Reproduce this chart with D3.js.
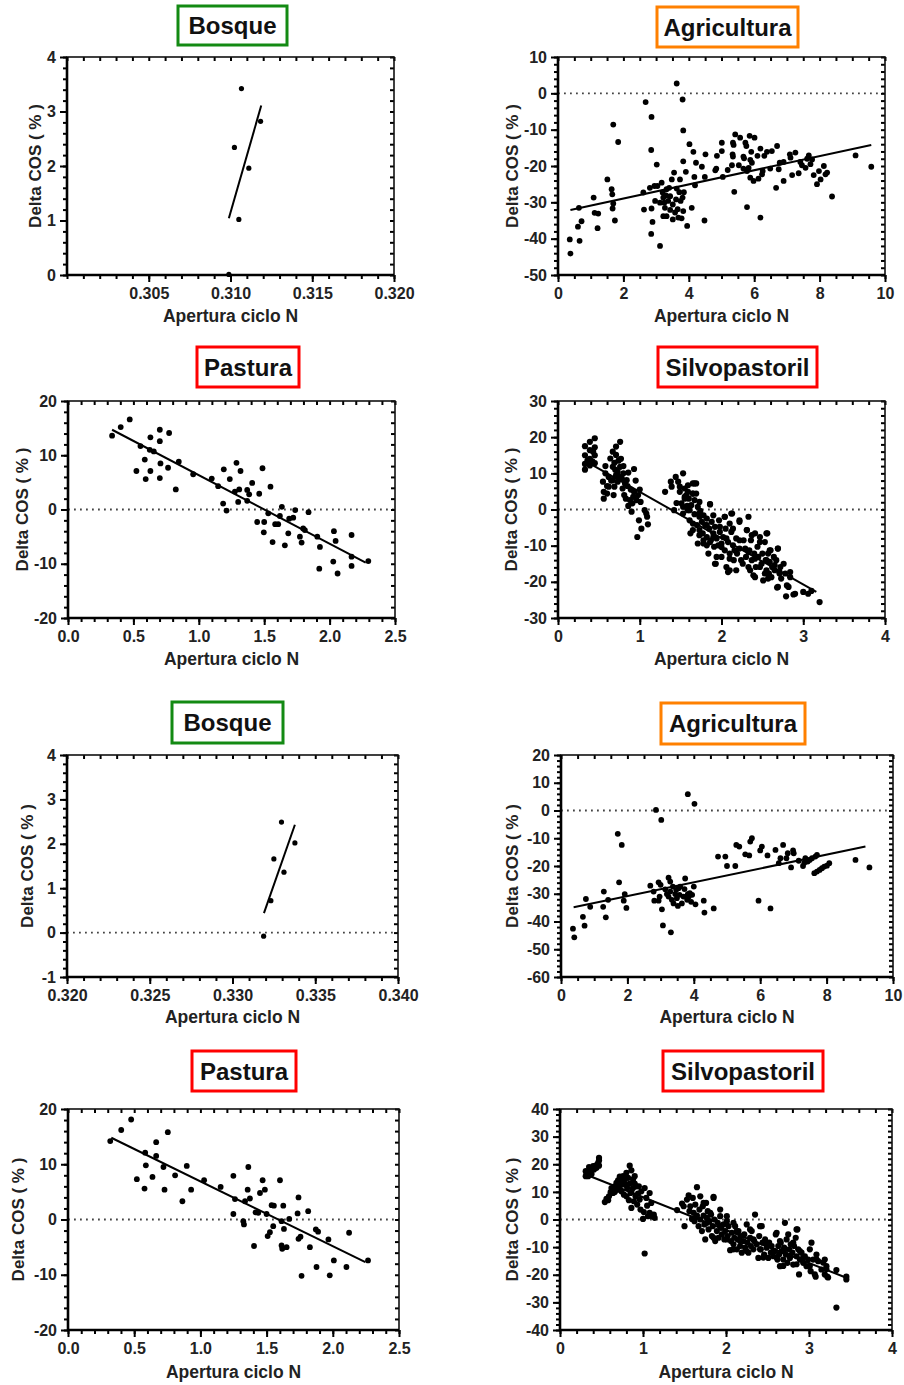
<!DOCTYPE html>
<html><head><meta charset="utf-8">
<script src="https://cdn.jsdelivr.net/npm/d3@7"></script>
<style>
html,body{margin:0;padding:0;background:#fff;}
svg{display:block;font-family:"Liberation Sans",Arial,sans-serif;}
</style></head>
<body>
<script>
// ---------------- DATA ----------------
const panelTitles = ["Bosque","Agricultura","Pastura","Silvopastoril","Bosque","Agricultura","Pastura","Silvopastoril"];
const xAxisTitle = "Apertura ciclo N";
const yAxisTitle = "Delta COS ( % )";

const bosqueA = [[0.31067,3.42],[0.31184,2.82],[0.31024,2.34],[0.31112,1.96],[0.31051,1.02],[0.30990,0.01]];
const bosqueAFit = [[0.30990,1.04],[0.31188,3.11]];

const agriA = [[3.63,2.7],[2.68,-2.4],[3.81,-1.7],[2.86,-6.5],[1.69,-8.6],[1.84,-13.4],[3.83,-10.2],[2.85,-15.6],[4.02,-14.0],[4.14,-16.1],
[3.02,-19.6],[3.83,-18.7],[4.22,-19.1],[3.91,-21.6],[4.40,-20.2],[4.51,-16.8],[4.17,-23.0],[4.19,-25.3],[4.49,-23.0],[4.86,-17.2],
[5.01,-15.9],[5.01,-13.6],[4.84,-20.7],[4.81,-21.2],[5.04,-23.0],[5.19,-21.1],[5.42,-11.3],[5.35,-13.6],[5.37,-14.2],[5.34,-16.8],
[5.35,-17.4],[5.32,-19.8],[5.39,-27.1],[5.57,-12.2],[5.53,-19.8],[5.67,-17.4],[5.73,-13.6],[5.76,-14.5],[5.78,-31.3],[5.69,-17.9],
[5.67,-20.7],[5.78,-21.4],[5.86,-11.7],[5.88,-18.3],[5.83,-20.5],[5.93,-19.1],[6.01,-12.2],[5.91,-16.1],[5.98,-24.1],[5.88,-23.2],
[6.10,-17.2],[6.19,-15.2],[6.13,-23.5],[6.19,-34.2],[6.26,-21.4],[6.24,-22.3],[6.31,-17.2],[6.39,-16.1],[6.54,-15.9],[6.70,-14.5],
[6.49,-20.7],[6.67,-26.0],[6.75,-20.9],[6.78,-19.1],[6.90,-24.1],[6.90,-18.9],[7.11,-17.7],[7.09,-16.8],[7.16,-22.5],[7.26,-16.3],
[7.36,-22.0],[7.41,-18.9],[7.46,-19.8],[7.57,-20.5],[7.62,-18.0],[7.67,-17.1],[7.72,-19.5],[7.77,-18.2],[7.82,-22.5],[7.92,-25.0],
[7.98,-21.4],[8.03,-23.7],[8.13,-20.0],[8.18,-22.3],[8.23,-21.8],[8.38,-28.4],[9.10,-17.1],[9.58,-20.2],
[0.36,-40.2],[0.38,-44.1],[0.61,-36.7],[0.66,-40.6],[0.72,-35.2],[0.64,-31.5],[1.09,-28.7],[1.12,-32.9],[1.23,-33.1],[1.21,-37.1],
[1.51,-23.7],[1.64,-26.4],[1.66,-27.8],[1.67,-31.7],[1.69,-30.3],[1.74,-35.0],[2.61,-27.3],[2.63,-32.0],[2.85,-38.7],[2.89,-35.4],
[2.86,-31.7],[2.81,-26.0],[2.95,-25.5],[3.04,-25.5],[2.97,-29.6],[3.12,-42.0],[3.17,-24.6],[3.20,-27.3],[3.22,-28.7],[3.25,-30.1],
[3.27,-31.5],[3.32,-33.8],[3.22,-33.8],[3.37,-29.6],[3.43,-28.3],[3.40,-26.0],[3.48,-23.7],[3.51,-30.6],[3.51,-34.7],[3.55,-21.8],
[3.58,-32.8],[3.61,-29.2],[3.63,-26.2],[3.66,-31.9],[3.68,-34.2],[3.71,-27.2],[3.73,-23.7],[3.75,-29.6],[3.78,-34.4],[3.83,-32.4],
[3.81,-28.7],[3.85,-27.2],[3.95,-36.5],[4.09,-31.5],[4.48,-35.0],[3.32,-26.4],[3.12,-30.1],[3.43,-32.1],[3.30,-28.1]];
const agriAFit = [[0.38,-32.1],[9.58,-14.2]];

const pastA = [[0.337,13.6],[0.403,15.2],[0.472,16.6],[0.554,11.7],[0.587,9.2],[0.523,7.1],[0.594,5.6],[0.630,13.3],[0.625,11.0],[0.656,10.7],
[0.630,7.1],[0.702,14.7],[0.702,12.6],[0.707,8.5],[0.702,5.8],[0.773,14.1],[0.765,7.7],[0.824,3.7],[0.847,8.8],[0.957,6.5],
[1.099,5.7],[1.148,4.3],[1.191,7.4],[1.186,1.1],[1.212,-0.2],[1.237,5.6],[1.288,8.6],[1.276,3.3],[1.309,3.7],[1.301,1.4],
[1.319,7.1],[1.370,3.6],[1.385,2.8],[1.370,1.6],[1.408,4.9],[1.462,2.9],[1.487,7.6],[1.446,-2.3],[1.500,-2.3],[1.497,-4.2],
[1.548,4.2],[1.531,-0.7],[1.564,-6.0],[1.584,-2.7],[1.607,-2.7],[1.620,-1.2],[1.635,0.5],[1.658,-6.6],[1.684,-4.4],[1.691,-1.7],
[1.722,-1.5],[1.737,-0.1],[1.773,-5.0],[1.786,-6.1],[1.798,-3.5],[1.811,-3.8],[1.839,-0.5],[1.906,-5.0],[1.921,-10.9],[1.926,-6.9],
[2.033,-4.0],[2.046,-5.8],[2.028,-9.6],[2.061,-11.8],[2.168,-4.7],[2.168,-8.7],[2.168,-10.4],[2.296,-9.5]];
const pastAFit = [[0.337,14.7],[2.276,-9.8]];

const silvoA = [[0.33,17.5],[0.33,15.0],[0.33,12.6],[0.33,11.0],[0.36,13.5],[0.39,18.7],[0.39,16.4],[0.39,14.0],[0.39,12.2],[0.42,13.3],
[0.45,19.7],[0.45,17.2],[0.45,15.0],[0.45,12.8],[0.43,16.0],
[0.55,7.7],[0.56,4.9],[0.56,3.0],[0.58,10.0],[0.60,4.4],[0.62,9.0],[0.62,6.3],[0.64,14.1],[0.67,16.0],[0.67,11.8],
[0.67,8.1],[0.69,12.9],[0.69,6.3],[0.71,17.4],[0.71,15.1],[0.71,9.5],[0.73,10.4],[0.73,7.7],[0.76,11.8],[0.76,18.7],
[0.78,8.6],[0.79,5.8],[0.80,10.0],[0.80,12.0],[0.82,7.2],[0.83,3.0],[0.84,8.1],[0.86,10.2],[0.88,2.6],[0.89,5.5],
[0.90,-0.6],[0.91,1.7],[0.92,3.5],[0.93,11.2],[0.93,4.9],[0.96,2.6],[0.97,-7.6],[0.98,4.0],[0.99,-3.0],[1.00,5.5],
[1.01,2.1],[1.02,-5.3],[1.08,-1.1],[1.09,-2.0],[1.10,-4.1],[1.06,-0.2],
[0.75,9.0],[0.70,11.0],[0.77,14.0],[0.85,6.5],[0.65,8.0],[0.60,6.5],[0.58,12.0],[0.81,4.0],[0.95,8.0],[0.74,13.5],[0.86,1.0],[0.68,4.0],
[1.31,4.9],[1.38,7.7],[1.39,6.3],[1.44,9.0],[1.47,7.7],[1.53,10.0],[1.49,4.9],[1.45,1.8],[1.42,-0.2],[1.51,1.7],
[1.53,-1.1],[1.55,3.5],[1.57,4.0],[1.58,1.0],[1.59,-0.2],[1.60,3.0],[1.61,-3.0],[1.63,1.2],[1.65,7.2],[1.65,4.4],
[1.67,-1.3],[1.67,2.6],[1.69,4.4],[1.70,-4.3],[1.71,0.7],[1.73,-2.0],[1.73,-5.7],[1.74,-0.4],[1.76,-3.4],[1.77,-6.6],
[1.78,-1.6],[1.78,-9.4],[1.80,-4.3],[1.82,-7.6],[1.82,-2.5],[1.84,-12.2],[1.85,-5.3],[1.86,1.4],[1.87,-8.5],[1.88,-3.4],
[1.90,-6.6],[1.91,-10.3],[1.92,-4.8],[1.93,-15.0],[1.94,-8.0],[1.96,-9.9],[1.97,-3.0],[1.98,-6.2],[2.00,-9.4],[2.00,-13.1],
[2.02,-7.6],[2.04,-2.0],[2.04,-11.3],[2.05,-5.3],[2.06,-15.9],[2.08,-9.0],[2.08,-17.3],[2.10,-3.9],[2.10,-12.2],[2.12,-6.2],
[2.13,-1.1],[2.14,-9.9],[2.15,-14.0],[2.18,-16.8],[2.18,-8.0],[2.19,-12.2],[2.22,-3.4],[2.22,-10.8],[2.24,-14.0],[2.27,-8.5],
[2.29,-10.8],[2.30,-13.1],[2.31,-5.7],[2.33,-15.9],[2.34,-11.3],[2.36,-8.5],[2.37,-14.0],[2.39,-18.2],[2.40,-12.2],[2.41,-6.6],
[2.42,-15.9],[2.44,-10.3],[2.45,-13.1],[2.47,-7.6],[2.49,-15.0],[2.50,-12.2],[2.51,-19.6],[2.53,-9.0],[2.54,-14.0],[2.55,-16.8],
[2.56,-6.6],[2.57,-12.2],[2.58,-17.7],[2.59,-14.5],[2.60,-11.3],[2.61,-18.7],[2.62,-15.9],[2.64,-13.1],[2.65,-16.8],[2.67,-14.0],
[2.68,-21.6],[2.69,-10.8],[2.71,-17.7],[2.72,-15.9],[2.73,-19.1],[2.76,-15.0],[2.78,-17.7],[2.79,-24.0],[2.82,-21.4],[2.84,-17.3],
[2.88,-23.5],[3.00,-22.8],[3.06,-23.3],[3.10,-22.5],[3.20,-25.6],
[1.49,6.3],[1.55,5.8],[1.59,4.9],[1.53,0.7],[1.69,7.2],[1.86,-9.0],[1.78,-8.5],[1.71,-9.4],[1.65,-5.7],[1.62,-6.6],
[1.59,6.7],[1.67,7.2],[1.65,4.4],[1.55,3.0],[1.73,2.1],[1.86,1.5],[1.61,-0.2],[1.73,-1.1],[1.90,-1.6],[2.04,-2.0],
[2.12,-1.1],[2.33,-2.0],[2.22,-3.0],[1.65,-3.9],[1.82,-4.3],[1.98,-4.8],[2.14,-5.3],[2.31,-5.7],[2.37,-7.1],[2.55,-6.6],
[1.73,-7.1],[1.90,-7.6],[2.06,-8.0],[2.22,-8.5],[2.47,-9.0],[1.82,-9.9],[2.00,-10.4],[2.16,-11.3],[2.33,-11.7],[2.59,-11.3],
[2.69,-10.8],[1.94,-13.1],[2.10,-13.6],[2.41,-13.6],[2.55,-14.0],[1.92,-15.0],[2.26,-15.0],[2.47,-15.9],[2.65,-15.4],[2.10,-16.8],
[2.35,-16.8],[2.53,-17.7],[2.71,-17.3],[2.41,-18.7],[2.57,-19.1],[2.84,-18.7],[2.69,-21.4],[2.80,-21.0],[2.90,-23.3]];
const silvoAFit = [[0.39,12.7],[3.16,-22.8]];

const bosqueB = [[0.33296,2.49],[0.33250,1.66],[0.33377,2.02],[0.33311,1.36],[0.33232,0.72],[0.33188,-0.08]];
const bosqueBFit = [[0.33190,0.44],[0.33377,2.43]];

const agriB = [[3.82,5.9],[4.02,2.4],[2.86,0.2],[3.02,-3.4],[1.71,-8.4],[1.83,-12.4],[1.75,-25.9],[0.36,-42.6],[0.40,-45.7],[0.66,-38.3],
[0.71,-41.5],[0.75,-31.9],[0.88,-34.7],[1.29,-29.2],[1.27,-34.7],[1.35,-38.5],[1.42,-32.2],[1.89,-32.5],[1.92,-30.1],[1.97,-35.1],
[2.69,-27.1],[2.79,-29.2],[2.81,-32.5],[2.94,-25.9],[2.94,-32.5],[2.97,-31.0],[3.00,-26.8],[3.04,-35.6],[3.07,-41.4],[3.14,-28.4],
[3.19,-30.1],[3.24,-24.2],[3.24,-31.0],[3.29,-25.6],[3.29,-29.2],[3.31,-43.9],[3.34,-32.2],[3.37,-27.4],[3.39,-33.5],[3.44,-30.1],
[3.47,-28.6],[3.49,-31.6],[3.52,-34.4],[3.54,-28.0],[3.57,-30.4],[3.59,-27.4],[3.64,-33.5],[3.69,-31.0],[3.72,-28.3],[3.74,-24.5],
[3.80,-32.2],[3.82,-30.1],[3.85,-31.0],[3.88,-29.8],[3.92,-32.9],[3.95,-30.4],[4.00,-27.4],[4.05,-33.8],[4.30,-32.5],[4.32,-36.8],
[4.60,-35.3],[4.73,-16.6],[4.95,-16.6],[5.00,-20.0],[5.25,-20.0],[5.28,-12.4],[5.37,-13.0],[5.55,-15.8],[5.67,-16.2],[5.70,-11.2],
[5.75,-10.0],[5.95,-32.5],[6.00,-14.4],[6.05,-13.0],[6.22,-16.2],[6.31,-35.3],[6.46,-14.2],[6.56,-19.0],[6.61,-17.2],[6.69,-12.4],
[6.79,-17.2],[6.83,-15.4],[6.93,-20.5],[6.99,-14.4],[7.01,-15.4],[7.16,-18.1],[7.29,-20.0],[7.33,-18.8],[7.36,-17.2],[7.43,-18.4],
[7.49,-17.8],[7.56,-17.2],[7.63,-22.6],[7.71,-16.0],[7.71,-22.0],[7.79,-21.4],[7.86,-20.8],[7.93,-20.2],[8.01,-19.9],[8.08,-19.0],
[8.87,-17.8],[9.29,-20.5],[7.66,-16.6]];
const agriBFit = [[0.38,-34.9],[9.17,-13.0]];

const pastB = [[0.319,14.2],[0.402,16.2],[0.477,18.1],[0.583,12.1],[0.588,9.8],[0.520,7.3],[0.578,5.6],[0.638,7.7],[0.666,14.0],[0.666,11.5],
[0.721,9.5],[0.729,5.4],[0.754,15.8],[0.809,8.0],[0.864,3.3],[0.897,9.7],[0.930,5.4],[1.028,7.1],[1.153,5.9],[1.249,7.9],
[1.249,1.0],[1.261,3.7],[1.324,-0.3],[1.329,-0.9],[1.337,3.3],[1.357,5.4],[1.362,9.5],[1.374,3.8],[1.405,-4.8],[1.417,1.3],
[1.437,1.2],[1.450,4.8],[1.470,7.1],[1.487,5.4],[1.500,1.0],[1.508,-3.0],[1.525,-2.3],[1.538,2.6],[1.555,2.5],[1.550,-1.2],
[1.601,7.1],[1.613,-0.3],[1.613,-4.7],[1.618,-5.3],[1.626,2.5],[1.631,-1.7],[1.651,-5.0],[1.671,0.1],[1.734,1.1],[1.741,4.0],
[1.741,-3.5],[1.756,-3.1],[1.764,-10.2],[1.814,1.5],[1.827,-5.0],[1.872,-1.8],[1.877,-8.6],[1.889,-2.2],[1.967,-3.6],[1.977,-10.1],
[2.008,-7.4],[2.103,-8.6],[2.123,-2.4],[2.266,-7.4]];
const pastBFit = [[0.327,14.8],[2.246,-7.7]];

const silvoB = [[0.31,15.7],[0.32,16.9],[0.31,17.5],[0.36,17.5],[0.37,16.3],[0.40,19.3],[0.41,18.1],[0.44,18.7],[0.46,20.5],[0.47,22.3],
[0.47,19.5],[0.47,21.4],[0.45,19.9],[0.34,15.7],[0.35,19.0],[0.43,19.5],[0.38,16.5],
[0.54,6.3],[0.56,7.5],[0.59,8.4],[0.61,9.9],[0.62,11.4],[0.64,9.6],[0.66,12.0],[0.68,13.3],[0.69,10.8],[0.70,14.2],
[0.72,12.0],[0.73,13.9],[0.74,10.2],[0.76,15.7],[0.77,12.7],[0.78,14.5],[0.80,8.4],[0.80,16.9],[0.81,11.4],[0.82,15.1],
[0.84,13.0],[0.84,19.5],[0.85,9.6],[0.86,17.8],[0.86,4.2],[0.88,14.5],[0.88,11.4],[0.89,6.6],[0.90,15.7],[0.91,8.4],
[0.92,12.0],[0.93,5.4],[0.94,9.4],[0.96,7.2],[0.98,10.2],[1.00,0.2],[1.01,2.7],[1.02,11.4],[1.02,-12.3],[1.04,7.8],
[1.06,1.2],[1.08,9.6],[1.08,2.4],[1.10,6.0],[1.11,1.2],[1.13,1.8],[1.14,0.6],[0.97,3.6],
[0.70,11.5],[0.75,14.0],[0.80,12.5],[0.86,10.0],[0.90,13.0],[0.66,10.0],[0.77,9.0],[0.83,7.0],[0.95,12.0],[1.05,5.0],[0.58,7.0],[0.72,15.5],
[1.41,3.4],[1.47,5.8],[1.49,4.8],[1.50,-2.4],[1.53,7.2],[1.55,8.7],[1.56,3.0],[1.57,4.8],[1.59,0.2],[1.60,7.8],
[1.61,2.4],[1.62,-0.6],[1.63,5.4],[1.65,11.7],[1.65,1.4],[1.67,-2.4],[1.68,3.6],[1.69,8.4],[1.69,0.0],[1.71,-4.2],
[1.72,4.8],[1.73,1.4],[1.74,-1.8],[1.75,-7.2],[1.76,6.0],[1.77,0.6],[1.78,3.0],[1.79,-3.6],[1.80,-0.6],[1.82,1.8],
[1.83,-6.0],[1.84,-2.4],[1.85,8.2],[1.86,0.0],[1.87,-7.8],[1.89,-4.2],[1.90,-1.2],[1.91,-6.6],[1.93,1.2],[1.94,-3.0],
[1.95,-5.4],[1.97,-1.8],[1.98,-7.2],[1.99,-4.2],[2.01,-0.6],[2.02,-6.0],[2.03,-2.4],[2.05,-11.1],[2.06,-7.8],[2.07,-4.8],
[2.09,-9.0],[2.10,-6.6],[2.11,-2.4],[2.13,-10.8],[2.14,-7.2],[2.15,-4.2],[2.17,-9.6],[2.18,-6.0],[2.19,-12.0],[2.21,-7.8],
[2.22,-5.4],[2.23,-10.2],[2.25,-1.8],[2.26,-8.4],[2.27,-12.0],[2.29,-6.6],[2.30,-9.6],[2.31,-4.2],[2.33,-10.8],[2.34,-7.8],
[2.35,1.8],[2.37,-9.0],[2.39,-13.9],[2.40,-6.0],[2.42,-10.8],[2.43,-2.4],[2.44,-8.4],[2.46,-12.7],[2.47,-7.2],[2.49,-10.2],
[2.51,-13.9],[2.52,-8.4],[2.54,-12.0],[2.55,-9.6],[2.57,-13.3],[2.59,-11.4],[2.60,-5.4],[2.62,-14.5],[2.63,-9.6],[2.64,-12.7],
[2.65,-16.9],[2.66,-8.4],[2.67,-11.4],[2.69,-14.5],[2.70,-10.2],[2.71,-1.2],[2.72,-12.7],[2.73,-7.2],[2.74,-15.7],[2.76,-10.8],
[2.77,-13.9],[2.78,-9.0],[2.80,-12.0],[2.81,-16.3],[2.82,-9.6],[2.84,-6.6],[2.85,-13.3],[2.86,-3.6],[2.87,-10.8],[2.88,-19.9],
[2.89,-14.5],[2.91,-12.0],[2.93,-15.7],[2.95,-13.3],[2.97,-16.9],[2.99,-14.5],[3.02,-18.7],[3.03,-8.4],[3.05,-14.5],[3.08,-20.7],
[3.09,-12.7],[3.11,-15.1],[3.15,-18.1],[3.19,-14.5],[3.21,-16.9],[3.22,-20.7],[3.33,-31.9],[3.33,-18.3],[3.45,-20.7],[3.45,-21.7],
[3.19,-19.9],
[1.73,6.0],[1.85,7.8],[1.81,2.4],[1.93,3.6],[2.01,1.2],[1.77,-1.2],[1.93,-2.4],[2.09,-1.2],[2.13,-4.2],[2.29,-3.6],
[2.41,-2.4],[2.61,-4.8],[2.75,-5.4],[2.85,-3.6],[1.85,-6.6],[2.01,-7.2],[2.17,-7.8],[2.33,-7.2],[2.49,-8.4],[2.65,-7.8],
[2.81,-8.4],[2.09,-10.8],[2.25,-11.4],[2.41,-10.8],[2.57,-11.4],[2.71,-10.8],[2.89,-11.4],[3.01,-10.8],[2.45,-13.8],[2.61,-13.8],
[2.77,-13.2],[2.93,-13.8],[3.09,-14.4],[2.69,-16.8],[2.85,-16.2],[3.01,-16.8],[3.17,-15.6],[3.21,-18.0],[3.07,-19.9],[3.23,-21.0]];
const silvoBFit = [[0.31,16.3],[3.45,-21.1]];

// axis domains and tick values
const xDomains = [[0.300,0.320],[0,10],[0,2.5],[0,4],[0.320,0.340],[0,10],[0,2.5],[0,4]];
const yDomains = [[0,4],[-50,10],[-20,20],[-30,30],[-1,4],[-60,20],[-20,20],[-40,40]];
const xTickValues = [[0.305,0.310,0.315,0.320],[0,2,4,6,8,10],[0,0.5,1,1.5,2,2.5],[0,1,2,3,4],
                     [0.320,0.325,0.330,0.335,0.340],[0,2,4,6,8,10],[0,0.5,1,1.5,2,2.5],[0,1,2,3,4]];
const xTickDecimals = [3,0,1,0,3,0,1,0];
const xMinorSteps = [0.001,0.5,0.1,0.2,0.001,0.5,0.1,0.2];
const yTickValues = [[0,1,2,3,4],[-50,-40,-30,-20,-10,0,10],[-20,-10,0,10,20],[-30,-20,-10,0,10,20,30],
                     [-1,0,1,2,3,4],[-60,-50,-40,-30,-20,-10,0,10,20],[-20,-10,0,10,20],[-40,-30,-20,-10,0,10,20,30,40]];
const yMinorSteps = [0.2,2,2,2,0.2,2,2,2];
const showZeroLine = [false,true,true,true,true,true,true,true];
const titleColors = ["#138a13","#ff8000","#ff0000","#ff0000","#138a13","#ff8000","#ff0000","#ff0000"];
const panelPoints = [bosqueA, agriA, pastA, silvoA, bosqueB, agriB, pastB, silvoB];
const panelFits = [bosqueAFit, agriAFit, pastAFit, silvoAFit, bosqueBFit, agriBFit, pastBFit, silvoBFit];

// ---------------- LAYOUT ----------------
const layout = [
  {plot:[67,394,57,275],   box:[178,6,287,45],     ylx:35,  xly:322,  r:2.6},
  {plot:[558,885,57,275],  box:[657,7,798,47],     ylx:512, xly:322,  r:2.9},
  {plot:[68,395,401,618],  box:[197,347,299,387],  ylx:22,  xly:665,  r:2.9},
  {plot:[558,885,401,618], box:[658,347,817,387],  ylx:511, xly:665,  r:3.1},
  {plot:[67,398,755,977],  box:[172,702,283,743],  ylx:27,  xly:1023, r:2.6},
  {plot:[561,893,755,977], box:[661,703,805,744],  ylx:512, xly:1023, r:2.9},
  {plot:[68,399,1109,1330],box:[192,1051,296,1091],ylx:18,  xly:1378, r:2.9},
  {plot:[560,892,1109,1330],box:[663,1051,823,1091],ylx:512,xly:1378, r:3.1}
];

const svg = d3.select("body").append("svg").attr("width",904).attr("height",1385);

function minorRange(dom, step){
  const out=[]; const n=Math.round((dom[1]-dom[0])/step);
  for(let i=0;i<=n;i++) out.push(+(dom[0]+i*step).toFixed(6));
  return out;
}

panelTitles.forEach((title,i)=>{
  const L = layout[i];
  const [x0,x1,y0,y1] = L.plot;
  const x = d3.scaleLinear().domain(xDomains[i]).range([x0,x1]);
  const y = d3.scaleLinear().domain(yDomains[i]).range([y1,y0]);
  const g = svg.append("g");

  // title box
  const [bx0,by0,bx1,by1] = L.box;
  g.append("rect").attr("x",bx0).attr("y",by0).attr("width",bx1-bx0).attr("height",by1-by0)
    .attr("fill","#fff").attr("stroke",titleColors[i]).attr("stroke-width",3);
  g.append("text").attr("x",(bx0+bx1)/2).attr("y",(by0+by1)/2+8.5).attr("text-anchor","middle")
    .attr("font-size",24).attr("font-weight","bold").attr("fill","#111").text(title);

  // zero line
  if(showZeroLine[i]){
    g.append("line").attr("x1",x0).attr("x2",x1).attr("y1",y(0)).attr("y2",y(0))
      .attr("stroke","#444").attr("stroke-width",1.8).attr("stroke-dasharray","1.8,4.2");
  }

  const fmtX = v => v.toFixed(xTickDecimals[i]);
  const fmtY = v => String(v);
  const xMinor = minorRange(xDomains[i], xMinorSteps[i]);
  const yMinor = minorRange(yDomains[i], yMinorSteps[i]);

  const styleAxis = sel => { sel.select(".domain").remove(); sel.selectAll("line").attr("stroke","#000").attr("stroke-width",2); };
  const styleText = sel => sel.selectAll("text").attr("font-size",16).attr("font-weight","bold").attr("fill","#222")
      .attr("font-family","'Liberation Sans',Arial,sans-serif");

  g.append("g").attr("transform",`translate(0,${y1})`)
    .call(d3.axisBottom(x).tickValues(xMinor).tickSize(4).tickFormat("")).call(styleAxis);
  g.append("g").attr("transform",`translate(0,${y1})`)
    .call(d3.axisBottom(x).tickValues(xTickValues[i]).tickSize(7).tickPadding(6).tickFormat(fmtX))
    .call(styleAxis).call(styleText);
  g.append("g").attr("transform",`translate(0,${y0})`)
    .call(d3.axisBottom(x).tickValues(xMinor).tickSize(4).tickFormat("")).call(styleAxis);
  g.append("g").attr("transform",`translate(${x0},0)`)
    .call(d3.axisLeft(y).tickValues(yMinor).tickSize(4).tickFormat("")).call(styleAxis);
  g.append("g").attr("transform",`translate(${x0},0)`)
    .call(d3.axisLeft(y).tickValues(yTickValues[i]).tickSize(7).tickPadding(4).tickFormat(fmtY))
    .call(styleAxis).call(styleText);
  g.append("g").attr("transform",`translate(${x1},0)`)
    .call(d3.axisLeft(y).tickValues(yMinor).tickSize(4).tickFormat("")).call(styleAxis);

  // frame
  g.append("rect").attr("x",x0).attr("y",y0).attr("width",x1-x0).attr("height",y1-y0)
    .attr("fill","none").attr("stroke","#111").attr("stroke-width",1.6);
  g.append("line").attr("x1",x0).attr("x2",x0).attr("y1",y0).attr("y2",y1+1).attr("stroke","#000").attr("stroke-width",2.6);
  g.append("line").attr("x1",x0-1).attr("x2",x1).attr("y1",y1).attr("y2",y1).attr("stroke","#000").attr("stroke-width",2.6);

  // fit line
  g.append("path").datum(panelFits[i])
    .attr("d", d3.line().x(d=>x(d[0])).y(d=>y(d[1])))
    .attr("stroke","#000").attr("stroke-width",2).attr("fill","none");

  // points
  g.append("g").selectAll("circle").data(panelPoints[i]).join("circle")
    .attr("cx",d=>x(d[0])).attr("cy",d=>y(d[1])).attr("r",L.r).attr("fill","#000");

  // axis titles
  g.append("text").attr("x",(x0+x1)/2).attr("y",L.xly).attr("text-anchor","middle")
    .attr("font-size",17.5).attr("font-weight","bold").attr("fill","#222").text(xAxisTitle);
  g.append("text").attr("transform",`translate(${L.ylx},${(y0+y1)/2}) rotate(-90)`)
    .attr("text-anchor","middle").attr("dominant-baseline","central")
    .attr("font-size",17).attr("font-weight","bold").attr("fill","#222").text(yAxisTitle);
});
</script>
</body></html>
